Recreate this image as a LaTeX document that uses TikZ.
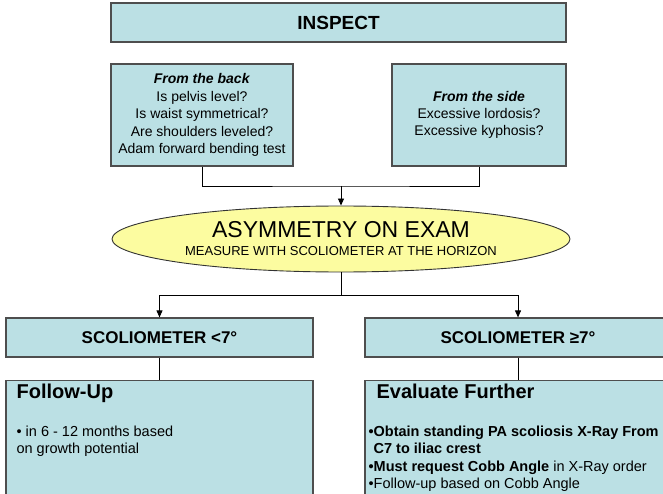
\documentclass[tikz,border=0pt]{standalone}
\usepackage{fontspec}
\setmainfont{Liberation Sans}
\usetikzlibrary{shapes.geometric, arrows.meta, positioning}

\definecolor{boxblue}{RGB}{187,224,228}
\definecolor{examyellow}{RGB}{252,252,160}
\definecolor{edgegray}{RGB}{78,78,78}

\begin{document}
\begin{tikzpicture}[x=1pt, y=-1pt,
        box/.style={draw=edgegray, line width=1.2pt, fill=boxblue, inner sep=0pt, align=center},
        headbox/.style={box, minimum height=39pt, font=\fontsize{17}{20}\selectfont\bfseries},
        notebox/.style={box, minimum width=306pt, minimum height=130pt},
        title/.style={inner sep=0pt, font=\fontsize{20}{24}\selectfont\bfseries},
        body/.style={inner sep=0pt, align=left, font=\fontsize{14.5}{17.3}\selectfont},
        link/.style={black, line width=0.9pt},
        arr/.style={link, -{Triangle[length=7pt, width=6pt]}}]

    \useasboundingbox (0,0) rectangle (663,494);
    \clip (0,0) rectangle (663,494);

    \node[box, minimum width=455pt, minimum height=39pt, font=\fontsize{19}{22}\selectfont\bfseries] (inspect) at (338.5,22.5) {INSPECT};

    \node[box, minimum width=182pt, minimum height=102pt, font=\fontsize{14}{17.6}\selectfont] (back) at (202,115)
        {\textbf{\textit{From the back}}\\Is pelvis level?\\Is waist symmetrical?\\Are shoulders leveled?\\Adam forward bending test};
    \node[box, minimum width=174pt, minimum height=102pt, font=\fontsize{14}{17}\selectfont] (side) at (479,115)
        {\textbf{\textit{From the side}}\\Excessive lordosis?\\Excessive kyphosis?};

    \node[ellipse, draw=black!80, line width=0.9pt, fill=examyellow, inner sep=0pt, align=center,
          minimum width=458pt, minimum height=66pt, font=\fontsize{13}{18}\selectfont] (exam) at (341,239)
        {{\fontsize{23}{25}\selectfont ASYMMETRY ON EXAM}\\MEASURE WITH SCOLIOMETER AT THE HORIZON};

    \node[headbox, minimum width=307pt] (under) at (159.5,337.5) {SCOLIOMETER <7°};
    \node[headbox, minimum width=306pt] (over) at (518,337.5) {SCOLIOMETER ≥7°};

    \node[notebox, minimum width=307pt] (follow) at (159.5,445.5) {};
    \node[notebox] (evaluate) at (518,445.5) {};

    \node[title, below right=4pt and 11pt of follow.north west] (followtitle) {Follow-Up};
    \node[body, below right=46pt and 11pt of follow.north west] (followtext)
        {• in 6 - 12 months based\\on growth potential};

    \node[title, below right=4pt and 12pt of evaluate.north west] (evaltitle) {Evaluate Further};
    \node[body, below right=46pt and 4pt of evaluate.north west] (evaltext)
        {\textbf{•Obtain standing PA scoliosis X-Ray From}\\
         \textbf{\phantom{•}C7 to iliac crest}\\
         \textbf{•Must request Cobb Angle} in X-Ray order\\
         •Follow-up based on Cobb Angle};

    \coordinate (upper) at (341,186);
    \coordinate (lower) at (341,295);

    \draw[link] (back.south) |- (upper) -| (side.south);
    \draw[arr] (upper) -- (exam.north);

    \draw[link] (exam.south) -- (lower);
    \draw[arr] (lower) -| (under.north);
    \draw[arr] (lower) -| (over.north);

    \draw[link] (under.south) -- (follow.north);
    \draw[link] (over.south) -- (evaluate.north);
\end{tikzpicture}
\end{document}
